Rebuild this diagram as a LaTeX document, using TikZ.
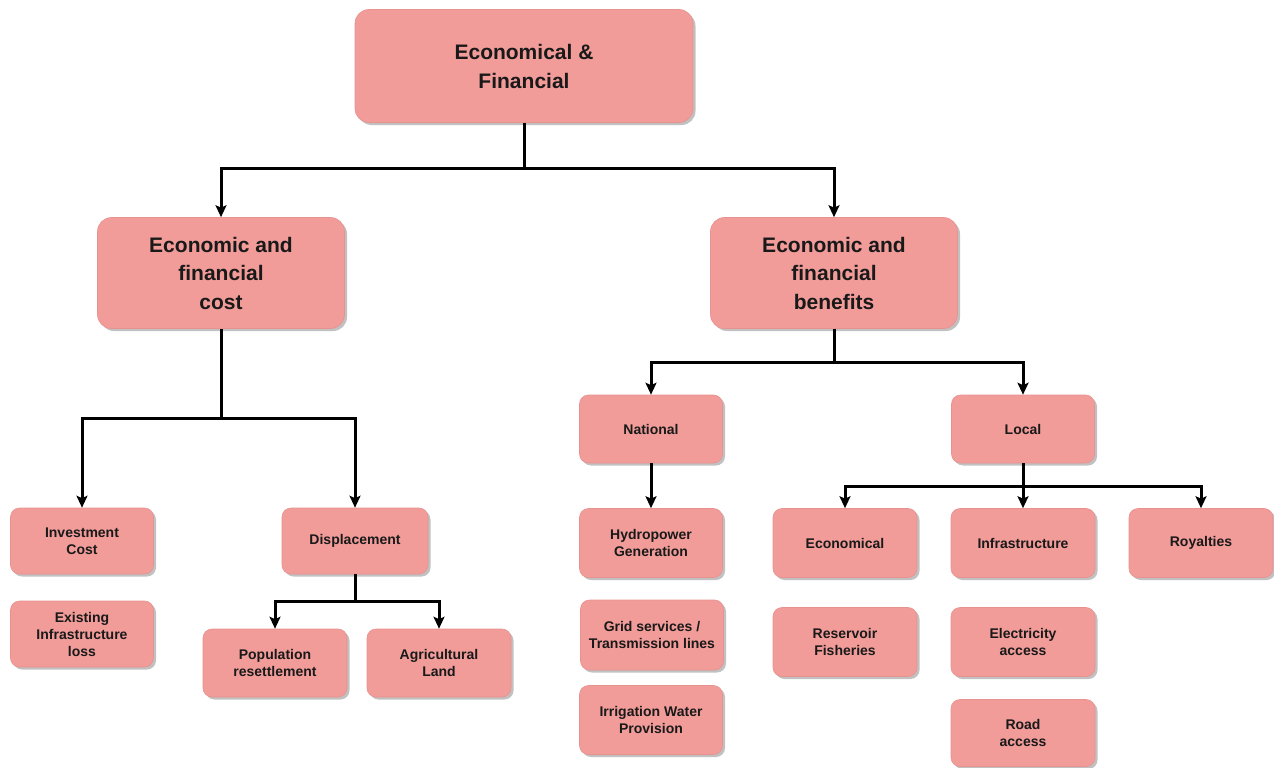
\documentclass[tikz,border=0pt]{standalone}
\usepackage{fontspec}
\setmainfont{Liberation Sans}
\usetikzlibrary{arrows.meta,shadows}
\definecolor{boxred}{HTML}{F19C99}
\definecolor{boxedge}{HTML}{E8928F}
\tikzset{
  box/.style={rounded corners=9pt, fill=boxred, draw=boxedge, line width=0.6pt, align=center,
    font=\bfseries\fontsize{14}{17}\selectfont, text=black!90,
    drop shadow={shadow xshift=2.5pt, shadow yshift=-2.5pt, opacity=0.4, fill=black!60},
    minimum width=143pt, minimum height=68pt, inner sep=2pt},
  bigbox/.style={box, rounded corners=14pt, minimum width=247pt, minimum height=111pt,
    font=\bfseries\fontsize{21}{28.5}\selectfont},
  topbox/.style={box, rounded corners=14pt, minimum width=338pt, minimum height=113pt,
    font=\bfseries\fontsize{21}{29}\selectfont},
  wire/.style={line width=3pt, black},
  arr/.style={wire, -{Stealth[length=12pt,width=11pt,inset=2.5pt]}}
}
\begin{document}
\begin{tikzpicture}[x=1pt,y=-1pt]
\useasboundingbox (0,0) rectangle (1274,768);
\fill[white] (0,0) rectangle (1274,768);
% nodes
\node[topbox] (top) at (524,66) {Economical \&\\Financial};
\node[bigbox] (cost) at (221,273) {Economic and\\financial\\cost};
\node[bigbox] (ben) at (834,273) {Economic and\\financial\\benefits};
\node[box, minimum height=66pt] (inv) at (82,541) {Investment\\Cost};
\node[box, minimum height=66pt] (exist) at (82,634) {Existing\\Infrastructure\\loss};
\node[box, minimum width=146pt, minimum height=66pt] (disp) at (355,541) {Displacement};
\node[box, minimum width=144pt] (pop) at (275,663) {Population\\resettlement};
\node[box, minimum width=144pt] (agri) at (439,663) {Agricultural\\Land};
\node[box] (nat) at (651,429) {National};
\node[box, minimum height=69pt] (hydro) at (651,543) {Hydropower\\Generation};
\node[box, minimum height=70pt] (grid) at (652,635) {Grid services /\\Transmission lines};
\node[box, minimum height=69pt] (irr) at (651,720) {Irrigation Water\\Provision};
\node[box] (loc) at (1023,429) {Local};
\node[box, minimum width=144pt, minimum height=69pt] (econ) at (845,543) {Economical};
\node[box, minimum width=144pt, minimum height=69pt] (infra) at (1023,543) {Infrastructure};
\node[box, minimum width=144pt, minimum height=69pt] (roy) at (1201,543) {Royalties};
\node[box, minimum width=144pt, minimum height=69pt] (res) at (845,642) {Reservoir\\Fisheries};
\node[box, minimum width=144pt, minimum height=69pt] (elec) at (1023,642) {Electricity\\access};
\node[box, minimum width=144pt, minimum height=67pt] (road) at (1023,733) {Road\\access};
% junctions
\coordinate (j1) at (524,168);
\coordinate (j2) at (221,418);
\coordinate (j3) at (355,601);
\coordinate (j4) at (834,362);
\coordinate (j5) at (1023,486);
% connectors
\draw[wire] (top.south) -- (j1);
\draw[arr] (j1) -| (cost.north);
\draw[arr] (j1) -| (ben.north);
\draw[wire] (cost.south) -- (j2);
\draw[arr] (j2) -| (inv.north);
\draw[arr] (j2) -| (disp.north);
\draw[wire] (disp.south) -- (j3);
\draw[arr] (j3) -| (pop.north);
\draw[arr] (j3) -| (agri.north);
\draw[wire] (ben.south) -- (j4);
\draw[arr] (j4) -| (nat.north);
\draw[arr] (j4) -| (loc.north);
\draw[arr] (nat.south) -- (hydro.north);
\draw[wire] (loc.south) -- (j5);
\draw[arr] (j5) -| (econ.north);
\draw[arr] (j5) -- (infra.north);
\draw[arr] (j5) -| (roy.north);
\end{tikzpicture}
\end{document}
